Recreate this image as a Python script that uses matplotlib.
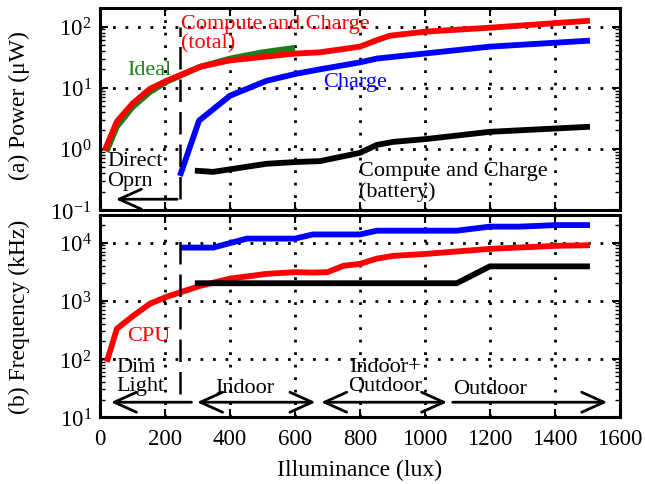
import numpy as np
import matplotlib
matplotlib.use("Agg")
import matplotlib.pyplot as plt
from matplotlib.ticker import LogLocator, LogFormatterMathtext, NullFormatter, MultipleLocator

plt.rcParams['font.family'] = ['Liberation Serif', 'DejaVu Serif']
plt.rcParams['mathtext.fontset'] = 'stix'
plt.rcParams['font.size'] = 16

# Power panel (uW)
lux_total = [15, 52, 100, 154, 205, 246, 308, 400, 594, 677, 800, 852, 892, 1005, 1200, 1508]
pw_total = [0.95, 2.8, 5.5, 9.6, 13, 16, 22, 28, 36, 38, 47, 60, 71, 83, 96, 125]

lux_ideal = [20, 52, 100, 154, 205, 308, 400, 500, 600]
pw_ideal = [0.9, 2.3, 4.8, 8.5, 12.5, 22, 30, 38, 45]

lux_charge = [246, 305, 400, 513, 605, 677, 800, 852, 1200, 1508]
pw_charge = [0.36, 2.9, 7.4, 13, 17, 20, 26, 30, 47, 59]

lux_batt = [292, 348, 513, 605, 677, 800, 852, 902, 1005, 1200, 1508]
pw_batt = [0.44, 0.42, 0.57, 0.61, 0.63, 0.86, 1.16, 1.3, 1.45, 1.9, 2.3]

# Frequency panel (kHz)
lux_cpu = [21, 52, 102, 154, 205, 308, 400, 513, 600, 655, 700, 750, 800, 852, 902, 1005, 1200, 1405, 1508]
f_cpu = [89, 330, 550, 890, 1170, 1800, 2400, 2900, 3100, 3050, 3100, 4000, 4300, 5300, 5900, 6400, 7800, 8800, 9000]

lux_f2 = [246, 348, 452, 600, 655, 800, 852, 1098, 1200, 1292, 1405, 1508]
f_f2 = [8200, 8200, 11700, 11700, 13800, 13800, 16000, 16000, 18800, 18800, 20000, 20000]

lux_f3 = [292, 1098, 1200, 1508]
f_f3 = [2000, 2000, 3900, 3900]

fig = plt.figure(figsize=(6.45, 4.85), dpi=100)
ax1 = fig.add_axes([0.155, 0.565, 0.806, 0.416])
ax2 = fig.add_axes([0.155, 0.138, 0.806, 0.417])

lw = 4.2
ax1.plot(lux_ideal, pw_ideal, color='#1a7f1a', lw=lw, solid_capstyle='butt')
ax1.plot(lux_total, pw_total, color='red', lw=lw, solid_capstyle='butt')
ax1.plot(lux_charge, pw_charge, color='blue', lw=lw, solid_capstyle='butt')
ax1.plot(lux_batt, pw_batt, color='black', lw=lw, solid_capstyle='butt')

ax2.plot(lux_f2, f_f2, color='blue', lw=lw, solid_capstyle='butt')
ax2.plot(lux_cpu, f_cpu, color='red', lw=lw, solid_capstyle='butt')
ax2.plot(lux_f3, f_f3, color='black', lw=lw, solid_capstyle='butt')

for ax in (ax1, ax2):
    ax.set_yscale('log')
    ax.set_xlim(0, 1600)
    ax.xaxis.set_major_locator(MultipleLocator(200))
    ax.yaxis.set_major_locator(LogLocator(base=10, numticks=10))
    ax.yaxis.set_minor_locator(LogLocator(base=10, subs=np.arange(2, 10), numticks=20))
    ax.yaxis.set_major_formatter(LogFormatterMathtext())
    ax.yaxis.set_minor_formatter(NullFormatter())
    ax.tick_params(which='both', direction='in', top=True, right=True)
    ax.tick_params(which='major', length=6, width=1.5, labelsize=16.5)
    ax.tick_params(which='minor', length=3.5, width=1)
    ax.tick_params(axis='y', which='major', pad=6)
    ax.tick_params(axis='x', which='major', pad=8)
    ax.grid(True, which='major', color='black', linestyle=(0, (1, 3.5)), lw=2)
    for s in ax.spines.values():
        s.set_linewidth(2.2)

ax1.set_ylim(0.1, 200)
ax2.set_ylim(10, 30000)
ax1.tick_params(labelbottom=False)

# divider between direct operation and charging
ax1.plot([246, 246], [0.15, 100], color='black', lw=1.8, dashes=(9, 4))
ax2.plot([246, 246], [25, 15500], color='black', lw=1.8, dashes=(9, 4))

ax1.set_ylabel('(a) Power (\u03bcW)', fontsize=17)
ax2.set_ylabel('(b) Frequency (kHz)', fontsize=17)
ax1.yaxis.set_label_coords(-0.135, 0.52)
ax2.yaxis.set_label_coords(-0.135, 0.5)
ax2.set_xlabel('Illuminance (lux)', labelpad=7, fontsize=17)

ax1.text(250, 78, 'Compute and Charge\n(total)', color='red',
         va='center', linespacing=1.05)
ax1.text(85, 20, 'Ideal', color='#1a7f1a', va='center')
ax1.text(686, 12.5, 'Charge', color='blue', va='center')
ax1.text(22, 0.44, 'Direct\nOprn', color='black', va='center', linespacing=1.05)
ax1.text(798, 0.30, 'Compute and Charge\n(battery)', color='black',
         va='center', linespacing=1.05)
ax1.annotate('', xy=(40, 0.15), xytext=(246, 0.15),
             arrowprops=dict(arrowstyle='->,head_length=1.0,head_width=0.45', lw=2, color='black'))

ax2.text(85, 250, 'CPU', color='red', va='center')
ax2.text(52, 51, 'Dim\nLight', color='black', va='center', linespacing=1.05)
ax2.text(445, 32, 'Indoor', color='black', ha='center', va='center')
ax2.text(877, 51, 'Indoor+\nOutdoor', color='black', ha='center', va='center',
         linespacing=1.05)
ax2.text(1200, 31, 'Outdoor', color='black', ha='center', va='center')

ay = 18
arrow = dict(lw=2, color='black')
ax2.annotate('', xy=(25, ay), xytext=(290, ay),
             arrowprops=dict(arrowstyle='->,head_length=1.0,head_width=0.45', **arrow))
ax2.annotate('', xy=(290, ay), xytext=(672, ay),
             arrowprops=dict(arrowstyle='<->,head_length=1.0,head_width=0.45', **arrow))
ax2.annotate('', xy=(672, ay), xytext=(1077, ay),
             arrowprops=dict(arrowstyle='<->,head_length=1.0,head_width=0.45', **arrow))
ax2.annotate('', xy=(1570, ay), xytext=(1077, ay),
             arrowprops=dict(arrowstyle='->,head_length=1.0,head_width=0.45', **arrow))

fig.savefig('out.png', dpi=100)
